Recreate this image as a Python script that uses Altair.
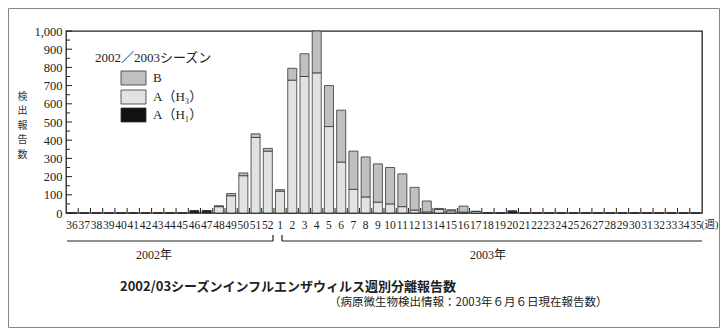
import altair as alt
import pandas as pd

# ---- data ----
weeks = ["36", "37", "38", "39", "40", "41", "42", "43", "44", "45", "46", "47",
         "48", "49", "50", "51", "52",
         "1", "2", "3", "4", "5", "6", "7", "8", "9", "10", "11", "12", "13",
         "14", "15", "16", "17", "18", "19", "20", "21", "22", "23", "24", "25",
         "26", "27", "28", "29", "30", "31", "32", "33", "34", "35"]

# A(H1)
h1 = [0, 0, 0, 0, 0, 0, 0, 0, 0, 0, 12, 12,
      0, 0, 0, 0, 0,
      0, 0, 0, 0, 0, 0, 0, 0, 0, 0, 0, 0, 0,
      0, 0, 0, 0, 0, 0, 10, 0, 0, 0, 0, 0,
      0, 0, 0, 0, 0, 0, 0, 0, 0, 0]
# A(H3)
h3 = [0, 0, 0, 0, 0, 0, 0, 0, 0, 0, 0, 0,
      35, 95, 205, 415, 340,
      120, 730, 750, 770, 475, 280, 130, 88, 60, 50, 35, 16, 6,
      20, 12, 5, 8, 0, 0, 0, 0, 0, 0, 0, 0,
      0, 0, 0, 0, 0, 0, 0, 0, 0, 0]
# B
b = [0, 0, 0, 0, 0, 0, 0, 0, 0, 0, 0, 0,
     5, 12, 15, 20, 15,
     8, 65, 125, 230, 225, 285, 210, 220, 210, 200, 180, 125, 60,
     5, 6, 33, 2, 0, 0, 0, 0, 0, 0, 0, 0,
     0, 0, 0, 0, 0, 0, 0, 0, 0, 0]

types = ["A(H1)", "A(H3)", "B"]
type_colors = ["#111111", "#e2e2e2", "#c0c0c0"]
y_major = [0, 100, 200, 300, 400, 500, 600, 700, 800, 900, 1000]
y_minor = [50, 150, 250, 350, 450, 550, 650, 750, 850, 950]

legend_title = "2002／2003シーズン"
legend_labels = ["B", "A（H₃）", "A（H₁）"]
y_title = ["検", "出", "報", "告", "数"]
title_text = "2002/03シーズンインフルエンザウィルス週別分離報告数"
subtitle_text = "（病原微生物検出情報：2003年６月６日現在報告数）"

SERIF = "Liberation Serif, Noto Sans CJK JP"
SANS = "Noto Sans CJK JP"

W, H = 636, 182
PAD_L, PAD_T, PAD_R, PAD_B = 58, 23, 18, 115

rows = []
for series, t, o in ((h1, "A(H1)", 0), (h3, "A(H3)", 1), (b, "B", 2)):
    for wk, v in zip(weeks, series):
        rows.append({"week": wk, "type": t, "ord": o, "count": v})
df = pd.DataFrame(rows)

xscale = alt.Scale(domain=weeks, paddingInner=0.26, paddingOuter=0.13)
yscale = alt.Scale(domain=[0, 1000], nice=False)

x_axis = alt.Axis(title=None, labelAngle=0, ticks=False, domain=False,
                  labelFont=SERIF, labelFontSize=11.5, labelColor="#222",
                  labelPadding=6, labelOverlap=False, labelBaseline="top")
y_axis = alt.Axis(values=y_major, format=",d", ticks=False, domain=False,
                  grid=False, labelFont=SERIF, labelFontSize=12.5,
                  labelColor="#222", labelPadding=4, labelOverlap=False,
                  title=y_title, titleAngle=0, titleFont=SANS,
                  titleFontSize=10, titleFontWeight="normal",
                  titleColor="#333", titleLineHeight=14.5,
                  titleAlign="center", titleBaseline="top",
                  titleX=-44, titleY=60)

bars = alt.Chart(df).mark_bar(stroke="#333333", strokeWidth=0.8).encode(
    x=alt.X("week:N", scale=xscale, axis=x_axis),
    y=alt.Y("count:Q", stack="zero", scale=yscale, axis=y_axis),
    color=alt.Color("type:N", scale=alt.Scale(domain=types, range=type_colors),
                    legend=None),
    order=alt.Order("ord:Q"),
)

# inward y ticks
ymaj = alt.Chart(pd.DataFrame({"count": y_major})).mark_rule(color="#222").encode(
    y=alt.Y("count:Q", scale=yscale, axis=y_axis), x=alt.value(0), x2=alt.value(6))
ymin = alt.Chart(pd.DataFrame({"count": y_minor})).mark_rule(color="#222").encode(
    y=alt.Y("count:Q", scale=yscale, axis=y_axis), x=alt.value(0), x2=alt.value(4))

# inward x ticks between weeks
xt = alt.Chart(pd.DataFrame({"week": weeks[1:]})).mark_rule(
    color="#222", xOffset=-1.6).encode(
    x=alt.X("week:N", scale=xscale, bandPosition=0, axis=x_axis),
    y=alt.value(H), y2=alt.value(H - 5))

def label(text, x, y, size=12, font=SERIF, align="left", weight="normal"):
    return alt.Chart(pd.DataFrame({"t": [text]})).mark_text(
        align=align, baseline="middle", font=font, fontSize=size,
        fontWeight=weight, color="#222").encode(
        text="t:N", x=alt.value(x), y=alt.value(y))

# custom legend
def leg_box(i, y0):
    d = pd.DataFrame({"label": [legend_labels[i]], "type": [["B", "A(H3)", "A(H1)"][i]]})
    box = alt.Chart(d).mark_rect(stroke="#333", strokeWidth=0.8).encode(
        x=alt.value(55), x2=alt.value(80), y=alt.value(y0), y2=alt.value(y0 + 14),
        color=alt.Color("type:N", scale=alt.Scale(domain=types, range=type_colors),
                        legend=None))
    return box + label(legend_labels[i], 87, y0 + 7, size=13)

legend = (label(legend_title, 29, 27, size=13) +
          leg_box(0, 40) + leg_box(1, 59) + leg_box(2, 77))

# year brackets
def seg(x1, x2, y1, y2, color="#222", sw=1.2):
    return alt.Chart(pd.DataFrame({"a": [0]})).mark_rule(
        color=color, strokeWidth=sw).encode(
        x=alt.value(x1), x2=alt.value(x2), y=alt.value(y1), y2=alt.value(y2))

brackets = (seg(1, 207, 210, 210) + seg(207, 207, 210, 204) +
            seg(216, 636, 210, 210) + seg(216, 216, 210, 204))

# outer figure frame (just inside the drawing area)
fl, fr = -PAD_L + 0.5, W + PAD_R - 0.5
ft, fb = -PAD_T + 0.5, H + PAD_B - 0.5
frame = (seg(fl, fr, ft, ft, "#888", 1) + seg(fl, fr, fb, fb, "#888", 1) +
         seg(fl, fl, ft, fb, "#888", 1) + seg(fr, fr, ft, fb, "#888", 1))

texts = (label("(週)", 635, H + 12, size=10.5) +
         label("2002年", 88, 224, size=12, align="center") +
         label("2003年", 422, 224, size=12, align="center") +
         label(title_text, 54, 256, size=13, font=SANS, weight="bold") +
         label(subtitle_text, 263, 272, size=11.5, font=SANS))

chart = alt.layer(
    bars, xt, ymaj, ymin, legend, brackets, texts, frame
).properties(
    width=W, height=H,
    background="white",
    autosize=alt.AutoSizeParams(type="none"),
    padding={"left": PAD_L, "top": PAD_T, "right": PAD_R, "bottom": PAD_B},
).configure_view(
    stroke="#222", strokeWidth=1.3
)

chart.save("out.html", embed_options={"renderer": "svg", "actions": False})
